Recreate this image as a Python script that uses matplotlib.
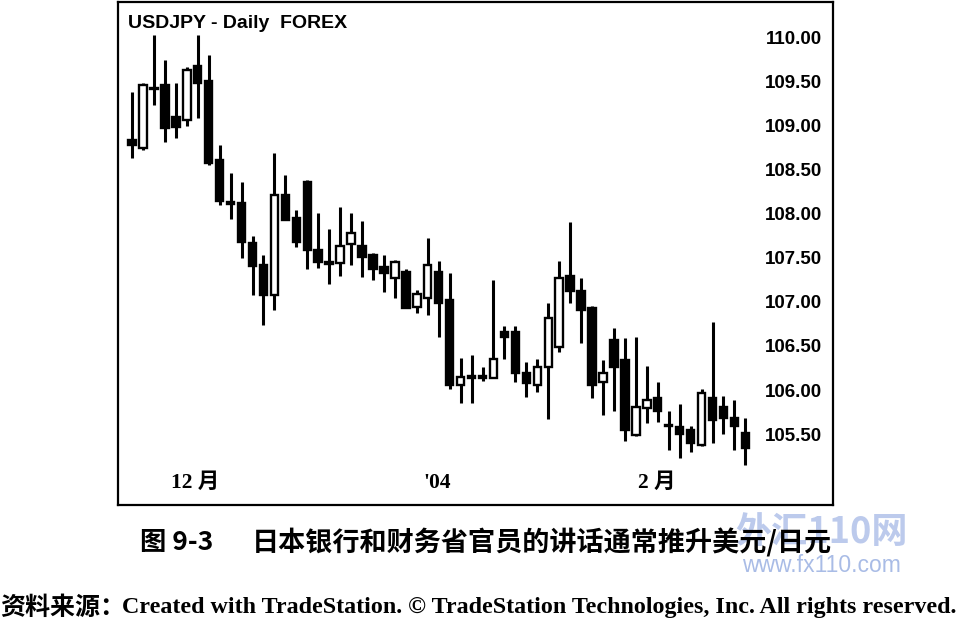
import matplotlib.pyplot as plt
import matplotlib.transforms as mtransforms

# USDJPY daily candles, Dec 2003 - Feb 2004
opens = [108.86, 108.76, 109.45, 109.48, 109.12, 109.08, 109.70, 109.53, 108.63, 108.15,
         108.14, 107.69, 107.44, 107.10, 108.23, 107.97, 108.38, 107.61, 107.47, 107.46,
         107.68, 107.66, 107.55, 107.42, 107.29, 107.36, 106.96, 107.07, 107.36, 107.04,
         106.08, 106.18, 106.18, 106.16, 106.68, 106.68, 106.22, 106.08, 106.28, 106.51,
         107.32, 107.15, 106.95, 106.11, 106.59, 106.36, 105.51, 105.82, 105.93, 105.63,
         105.60, 105.57, 105.40, 105.93, 105.83, 105.71, 105.54]
highs = [109.40, 109.50, 110.05, 109.76, 109.50, 109.68, 110.05, 109.82, 108.80, 108.48,
         108.38, 107.77, 107.55, 108.71, 108.46, 108.06, 108.40, 108.03, 107.85, 108.10,
         108.03, 107.94, 107.58, 107.55, 107.50, 107.40, 107.16, 107.74, 107.49, 107.35,
         106.39, 106.42, 106.28, 107.27, 106.75, 106.75, 106.34, 106.38, 107.01, 107.49,
         107.93, 107.29, 106.98, 106.36, 106.73, 106.61, 106.62, 106.30, 106.11, 105.79,
         105.87, 105.62, 106.04, 106.79, 105.96, 105.91, 105.71]
lows = [108.65, 108.74, 109.25, 108.83, 108.88, 109.02, 109.10, 108.57, 108.12, 107.96,
        107.52, 107.10, 106.76, 106.93, 107.95, 107.64, 107.40, 107.41, 107.23, 107.32,
        107.44, 107.30, 107.27, 107.13, 107.07, 106.95, 106.90, 106.87, 106.62, 106.04,
        105.88, 105.88, 106.13, 106.16, 106.38, 106.11, 105.94, 106.00, 105.70, 106.45,
        107.01, 106.56, 105.93, 105.74, 105.79, 105.45, 105.50, 105.65, 105.66, 105.34,
        105.25, 105.32, 105.39, 105.42, 105.53, 105.34, 105.17]
closes = [108.80, 109.48, 109.43, 108.99, 109.00, 109.65, 109.50, 108.59, 108.17, 108.13,
          107.70, 107.43, 107.10, 108.23, 107.95, 107.70, 107.61, 107.47, 107.45, 107.66,
          107.80, 107.53, 107.40, 107.35, 107.47, 106.95, 107.11, 107.44, 107.01, 106.08,
          106.17, 106.16, 106.16, 106.38, 106.62, 106.22, 106.10, 106.28, 106.84, 107.29,
          107.15, 106.93, 106.08, 106.22, 106.28, 105.57, 105.83, 105.91, 105.79, 105.61,
          105.53, 105.42, 105.99, 105.68, 105.71, 105.62, 105.37]

price_ticks = [110.00, 109.50, 109.00, 108.50, 108.00, 107.50, 107.00, 106.50, 106.00, 105.50]
month_labels = ["12 月", "'04", "2 月"]
month_pos = [5.75, 27.9, 47.9]

fig = plt.figure(figsize=(9.74, 6.29), dpi=100)
ax = fig.add_axes([118 / 974, 124 / 629, 715 / 974, 503 / 629])

x = list(range(len(opens)))
up = [c >= o for o, c in zip(opens, closes)]
bottoms = [min(o, c) for o, c in zip(opens, closes)]
heights = [abs(c - o) for o, c in zip(opens, closes)]
faces = ["white" if u else "black" for u in up]

ax.vlines(x, lows, highs, color="black", linewidth=2.2, zorder=1)
ax.bar(x, heights, bottom=bottoms, width=0.68, color=faces,
       edgecolor="black", linewidth=1.7, zorder=2)

ax.set_xlim(-1.28, 64.0)
ax.set_ylim(104.72, 110.42)
ax.set_xticks([])
ax.set_yticks([])
for s in ax.spines.values():
    s.set_linewidth(1.6)
    s.set_color("black")

# price labels sit inside the box on the right
ytr = mtransforms.blended_transform_factory(ax.transAxes, ax.transData)
for p in price_ticks:
    ax.text(0.985, p, f"{p:.2f}", transform=ytr, ha="right", va="center",
            fontsize=13.5, fontweight="bold", family="Liberation Sans")

xtr = mtransforms.blended_transform_factory(ax.transData, ax.transAxes)
for pos, lab in zip(month_pos, month_labels):
    ax.text(pos, 0.044, lab, transform=xtr, ha="center", va="center",
            fontsize=15.5, fontweight="bold", family=["Liberation Serif", "Noto Sans CJK SC"])

ax.text(0.014, 0.958, "USDJPY - Daily  FOREX", transform=ax.transAxes,
        ha="left", va="center", fontsize=14, fontweight="bold",
        family="Liberation Sans")

# caption and source line
cjk = ["Noto Sans CJK SC", "DejaVu Sans"]
fig.text(140 / 974, 1 - 543 / 629, "图 9-3", ha="left", va="center",
         fontsize=19, fontweight="bold", family=cjk, zorder=3)
fig.text(252 / 974, 1 - 543 / 629, "日本银行和财务省官员的讲话通常推升美元/日元",
         ha="left", va="center", fontsize=19.5, fontweight="bold", family=cjk, zorder=3)
fig.text(0.0, 1 - 608 / 629, "资料来源：", ha="left", va="center",
         fontsize=18, fontweight="bold", family=cjk)
fig.text(122 / 974, 1 - 608 / 629,
         "Created with TradeStation. © TradeStation Technologies, Inc. All rights reserved.",
         ha="left", va="center", fontsize=17.3, fontweight="bold", family="Liberation Serif")

# watermark of the scan, drawn under the caption
fig.text(735 / 974, 1 - 532 / 629, "外汇110网", ha="left", va="center",
         fontsize=26, fontweight="bold", style="italic", color="#bccaec",
         family=cjk, zorder=0)
fig.text(742 / 974, 1 - 566 / 629, "www.fx110.com", ha="left", va="center",
         fontsize=16.5, color="#a9bce6", family="Liberation Sans", zorder=0)

fig.savefig("out.png", dpi=100)
